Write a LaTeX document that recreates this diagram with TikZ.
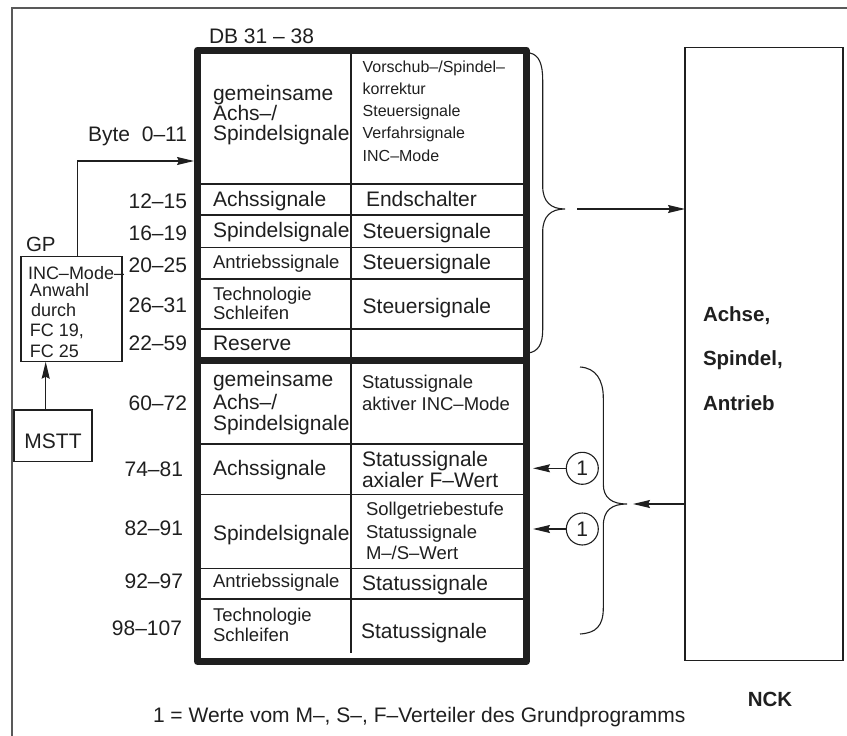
\documentclass[tikz,border=0pt]{standalone}
\usepackage{fontspec}
\setmainfont{Liberation Sans}
\usetikzlibrary{arrows.meta}

\begin{document}
\begin{tikzpicture}[x=1pt,y=-1pt,
  every node/.style={inner sep=0pt, outer sep=0pt},
  ink/.style={black!88},
  thin/.style={line width=1.1pt, ink},
  heavy/.style={line width=7pt, ink, line join=round, line cap=round},
  lt/.style={anchor=base west, text=black!88, font=\fontsize{21}{24}\selectfont},
  rt/.style={anchor=base east, text=black!88, font=\fontsize{21}{24}\selectfont},
  mt/.style={lt, font=\fontsize{18.5}{22}\selectfont},
  st/.style={lt, font=\fontsize{16}{19}\selectfont},
  bt/.style={anchor=base west, text=black!88, font=\fontsize{20.5}{24}\selectfont\bfseries},
  box/.style={draw, thin},
  arr/.style={thin, -{Stealth[length=17pt,width=8pt,inset=2pt]}},
  brace/.style={thin}
]
\useasboundingbox (0,0) rectangle (847,736);

% outer frame (left and top edges)
\draw[line width=1.4pt, black!65] (12,736) -- (12,8) -- (847,8);

% ---------- data block DB 31 - 38 ----------
\node[lt] (dbtitle) at (209,43.3) {DB 31 -- 38};
\node[draw, heavy, minimum width=328.5pt, minimum height=611.5pt] (tbl) at (361.75,355.75) {};
\coordinate (tblIn)  at (194,161);
\coordinate (tblOut) at (533,0);

% column divider and row lines
\draw[thin] (351,50) -- (351,360);
\draw[thin] (351,360) -- (351,653);
\foreach \yy in {184,215,247.7,279,329,444,494.3,568.3,599}
  \draw[thin] (201,\yy) -- (522.5,\yy);
\draw[heavy, line cap=butt] (197.5,360) -- (526,360);

% byte numbers
\node[rt] (b0)  at (187,141.7) {Byte\ \ 0--11};
\node[rt] (b1)  at (187,208)   {12--15};
\node[rt] (b2)  at (187,240)   {16--19};
\node[rt] (b3)  at (187,272.7) {20--25};
\node[rt] (b4)  at (187,312.7) {26--31};
\node[rt] (b5)  at (187,350)   {22--59};
\node[rt] (b6)  at (187,410)   {60--72};
\node[rt] (b7)  at (183,476.7) {74--81};
\node[rt] (b8)  at (183,535.7) {82--91};
\node[rt] (b9)  at (183,588)   {92--97};
\node[rt] (b10) at (182,635)   {98--107};

% left column, control part
\node[lt] (l1a) at (213,100)   {gemeinsame};
\node[lt] (l1b) at (213,120)   {Achs--/};
\node[lt] (l1c) at (213,140.7) {Spindelsignale};
\node[lt] (l2)  at (213,206.7) {Achssignale};
\node[lt] (l3)  at (213,237.3) {Spindelsignale};
\node[mt] (l4)  at (213,268.3) {Antriebssignale};
\node[mt] (l5a) at (213,300)   {Technologie};
\node[mt] (l5b) at (213,319.3) {Schleifen};
\node[lt] (l6)  at (213,350)   {Reserve};
% left column, status part
\node[lt] (m1a) at (213,386.7) {gemeinsame};
\node[lt] (m1b) at (213,409.3) {Achs--/};
\node[lt] (m1c) at (213,430.7) {Spindelsignale};
\node[lt] (m2)  at (213,475)   {Achssignale};
\node[lt] (m3)  at (213,540)   {Spindelsignale};
\node[mt] (m4)  at (213,587.3) {Antriebssignale};
\node[mt] (m5a) at (213,621.7) {Technologie};
\node[mt] (m5b) at (213,641.7) {Schleifen};

% right column, control part
\node[st] (r1a) at (362.7,72.7)  {Vorschub--/Spindel--};
\node[st] (r1b) at (362.7,94.3)  {korrektur};
\node[st] (r1c) at (362.7,116.7) {Steuersignale};
\node[st] (r1d) at (362.7,138.7) {Verfahrsignale};
\node[st] (r1e) at (362.7,161)   {INC--Mode};
\node[lt] (r2)  at (366,206)     {Endschalter};
\node[lt] (r3)  at (362.7,238.3) {Steuersignale};
\node[lt] (r4)  at (362.7,269.3) {Steuersignale};
\node[lt] (r5)  at (362.7,313.3) {Steuersignale};
% right column, status part
\node[mt] (s1a) at (362,388.3) {Statussignale};
\node[mt] (s1b) at (362,410)   {aktiver INC--Mode};
\node[lt] (s2a) at (362,466.7) {Statussignale};
\node[lt] (s2b) at (362,487.3) {axialer F--Wert};
\node[mt] (s3a) at (366,515)   {Sollgetriebestufe};
\node[mt] (s3b) at (366,538.3) {Statussignale};
\node[mt] (s3c) at (366,559.3) {M--/S--Wert};
\node[lt] (s4)  at (362,590)   {Statussignale};
\node[lt] (s5)  at (361,638.3) {Statussignale};

% ---------- GP and MSTT ----------
\node[lt, font=\fontsize{20.5}{24}\selectfont] (gplabel) at (26,251.7) {GP};
\node[box, minimum width=101pt, minimum height=105pt] (gpbox) at (71.5,309.2) {};
\node[lt, font=\fontsize{18}{21}\selectfont] (g1) at (28,279)   {INC--Mode--};
\node[lt, font=\fontsize{18}{21}\selectfont] (g2) at (30,296.7) {Anwahl};
\node[lt, font=\fontsize{18}{21}\selectfont] (g3) at (31,316.7) {durch};
\node[lt, font=\fontsize{18}{21}\selectfont] (g4) at (30,336)   {FC 19,};
\node[lt, font=\fontsize{18}{21}\selectfont] (g5) at (30,357)   {FC 25};
\node[box, minimum width=78pt, minimum height=51.7pt, text height=25pt,
      text=black!88, font=\fontsize{21}{24}\selectfont] (mstt) at (53,435.85) {MSTT};

\coordinate (gpx) at (77.7,0);
\coordinate (msx) at (45.7,0);
\draw[arr] (mstt.north -| msx) -- (gpbox.south -| msx);
\draw[arr] (gpbox.north -| gpx) |- (tblIn);

% ---------- NCK ----------
\node[box, minimum width=158pt, minimum height=613.4pt] (nck) at (764,354) {};
\node[bt] (n1) at (703,321.7) {Achse,};
\node[bt] (n2) at (703,365)   {Spindel,};
\node[bt] (n3) at (703,410)   {Antrieb};
\node[bt, anchor=base] (ncklabel) at (770,706.7) {NCK};

% braces and transfer arrows
\draw[brace] (530,53) .. controls (539,55) and (542.7,64) .. (542.7,80)
  -- (542.7,186) .. controls (542.7,202) and (551,209) .. (565,209)
  .. controls (551,209) and (542.7,216) .. (542.7,232)
  -- (542.7,330) .. controls (542.7,344) and (538,352) .. (528,353);
\coordinate (up) at (577,209);
\draw[arr] (up) -- (up -| nck.west);

\draw[brace] (580,367) .. controls (596,368) and (603.3,380) .. (603.3,398)
  -- (603.3,484) .. controls (603.3,498) and (612,504) .. (627,504)
  .. controls (612,504) and (603.3,510) .. (603.3,526)
  -- (603.3,608) .. controls (603.3,626) and (596,633) .. (580,634);
\coordinate (dn) at (633,504);
\draw[arr] (dn -| nck.west) -- (dn);

% values from the distributor
\node[draw, thin, circle, minimum size=32pt, text=black!88,
      font=\fontsize{21}{24}\selectfont] (c1) at (582.3,468.3) {1};
\node[draw, thin, circle, minimum size=32pt, text=black!88,
      font=\fontsize{21}{24}\selectfont] (c2) at (582.3,529) {1};
\draw[arr] (c1.west) -- (c1.west -| tblOut);
\draw[arr] (c2.west) -- (c2.west -| tblOut);

% footnote
\node[lt] (note) at (153,722) {1 = Werte vom M--, S--, F--Verteiler des Grundprogramms};
\end{tikzpicture}
\end{document}
